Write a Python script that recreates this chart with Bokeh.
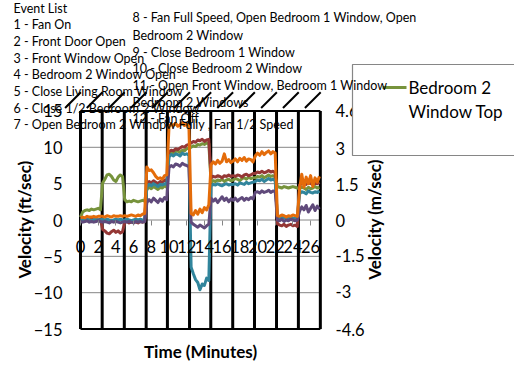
import math
from bokeh.plotting import figure
from bokeh.models import Range1d, LinearAxis, FixedTicker, Label, PrintfTickFormatter
from bokeh.embed import file_html
from bokeh.resources import INLINE

# ---------------- data ----------------
minutes = [round(0.25 * i, 2) for i in range(109)]

bedroom2_window_top = [  # green (ft/sec)
    0.4, 1.1, 1.3, 1.4, 1.3, 1.5, 1.4, 1.5, 1.6, 1.4,
    5.1, 5.6, 6.2, 6.3, 6.0, 5.5, 5.3, 5.9, 6.2, 6.0,
    2.8, 2.5, 2.6, 2.5, 2.7, 2.6, 2.5, 2.6, 2.7, 2.6,
    4.2, 4.5, 4.3, 4.6, 4.4, 4.2, 4.5, 4.4, 4.7, 4.5,
    9.0, 9.3, 9.1, 9.4, 9.5, 9.3, 9.6, 9.5, 9.8, 9.9,
    10.0, 10.2, 10.1, 10.4, 10.3, 10.5, 10.4, 10.6, 10.5,
    5.2, 5.4, 5.3, 5.5, 5.4, 5.6, 5.3, 5.5, 5.6, 5.4,
    5.5, 5.7, 5.6, 5.4, 5.7, 5.8, 5.6, 5.9, 5.7, 5.8,
    5.8, 6.0, 5.9, 6.1, 5.8, 6.0, 6.2, 6.0, 6.1, 5.9,
    4.6, 4.5, 4.4, 4.6, 4.5, 4.4, 4.5, 4.6, 4.5, 4.4,
    4.3, 4.5, 4.4, 4.2, 4.5, 4.3, 4.4, 4.6, 4.4, 4.5]

series_red = [
    0.1, 0.0, 0.1, -0.1, 0.0, 0.1, 0.0, -0.1, 0.0, 0.1,
    -1.3, -1.5, -1.8, -1.9, -1.6, -1.4, -1.7, -1.5, -1.8, -1.6,
    -0.3, -0.2, -0.4, -0.3, -0.2, -0.3, -0.4, -0.2, -0.3, -0.2,
    5.0, 5.3, 5.1, 5.4, 5.2, 5.0, 5.3, 5.2, 5.5, 5.3,
    9.4, 9.6, 9.5, 9.8, 9.7, 9.9, 10.1, 10.0, 10.3, 10.4,
    10.6, 10.8, 10.7, 11.0, 10.9, 11.1, 10.8, 11.0, 11.1,
    5.8, 6.0, 5.9, 6.1, 6.0, 5.8, 6.1, 6.0, 6.2, 6.0,
    6.1, 6.0, 6.2, 6.1, 5.9, 6.2, 6.3, 6.1, 6.2, 6.4,
    6.4, 6.6, 6.5, 6.7, 6.5, 6.6, 6.8, 6.6, 6.7, 6.5,
    -0.5, -0.7, -0.8, -0.6, -0.9, -0.7, -0.6, -0.8, -0.7, -0.9,
    4.8, 5.0, 5.1, 4.9, 5.2, 5.0, 4.9, 5.1, 5.0, 5.2]

series_teal = [
    0.0, 0.1, 0.0, 0.1, 0.0, -0.1, 0.0, 0.1, 0.0, 0.0,
    0.1, 0.0, 0.1, 0.0, -0.1, 0.0, 0.1, 0.0, 0.1, 0.0,
    0.0, 0.1, 0.0, -0.1, 0.0, 0.1, 0.0, 0.1, 0.0, 0.1,
    4.6, 4.9, 4.7, 5.0, 4.8, 4.6, 4.9, 4.8, 5.0, 4.9,
    8.7, 9.0, 8.8, 9.1, 9.0, 8.8, 9.2, 9.0, 9.1, 8.9,
    -6.5, -7.4, -8.2, -8.6, -9.6, -8.8, -9.0, -8.0, -8.3,
    4.7, 4.9, 4.8, 5.0, 4.8, 4.7, 4.9, 5.0, 4.8, 4.9,
    4.9, 5.0, 4.8, 5.1, 5.0, 4.9, 5.2, 5.0, 5.1, 5.2,
    5.3, 5.5, 5.4, 5.6, 5.3, 5.5, 5.7, 5.5, 5.6, 5.4,
    0.3, 0.2, 0.4, 0.3, 0.2, 0.3, 0.4, 0.2, 0.3, 0.2,
    3.6, 3.9, 3.8, 3.6, 4.0, 3.8, 3.7, 3.9, 3.8, 4.0]

series_purple = [
    -0.2, -0.3, -0.2, -0.1, -0.3, -0.2, -0.3, -0.2, -0.1, -0.2,
    -0.3, -0.2, -0.3, -0.4, -0.2, -0.3, -0.2, -0.3, -0.4, -0.3,
    -0.2, -0.3, -0.2, -0.3, -0.4, -0.2, -0.3, -0.2, -0.3, -0.2,
    2.4, 2.8, 2.5, 3.0, 2.7, 2.4, 2.9, 2.6, 3.1, 2.8,
    7.2, 7.5, 7.3, 7.7, 7.6, 7.4, 7.8, 7.6, 7.5, 7.3,
    -0.3, -0.6, -0.8, -1.0, -0.7, -0.9, -1.1, -0.8, -0.6,
    3.0, 2.6, 2.9, 2.4, 2.8, 3.2, 2.7, 3.0, 2.5, 2.9,
    2.7, 3.0, 2.6, 2.9, 3.1, 2.7, 3.0, 2.8, 3.1, 2.9,
    3.8, 3.9, 3.7, 4.0, 3.8, 3.9, 4.1, 3.8, 4.0, 3.9,
    0.0, -0.1, 0.1, -0.2, 0.0, -0.1, 0.1, 0.0, -0.1, 0.0,
    1.2, 1.8, 1.4, 2.0, 1.1, 1.6, 2.1, 1.3, 1.9, 1.5]

series_orange = [
    0.3, 0.4, 0.3, 0.5, 0.4, 0.4, 0.5, 0.4, 0.5, 0.5,
    0.5, 0.4, 0.6, 0.5, 0.4, 0.6, 0.5, 0.5, 0.6, 0.5,
    0.6, 0.5, 0.6, 0.7, 0.6, 0.5, 0.7, 0.6, 0.8, 0.9,
    7.3, 6.8, 6.9, 6.5, 6.0, 5.7, 5.8, 5.6, 6.1, 6.2,
    12.8, 13.2, 13.0, 13.3, 12.9, 13.1, 13.4, 13.0, 13.2, 12.9,
    0.9, 0.7, 1.3, 0.8, 1.5, 1.0, 1.7, 1.4, 2.1,
    7.6, 8.0, 7.7, 8.2, 7.8, 8.1, 9.1, 8.0, 8.3, 7.9,
    8.1, 8.4, 8.0, 8.5, 8.2, 8.6, 8.1, 8.4, 8.3, 8.0,
    8.8, 9.2, 8.9, 9.4, 9.0, 9.3, 9.5, 9.1, 9.4, 9.2,
    0.6, 0.5, 0.7, 0.6, 0.4, 0.6, 0.5, 0.7, 0.6, 0.5,
    4.2, 6.3, 4.5, 5.9, 5.0, 6.1, 4.6, 5.8, 5.2, 6.0]

event_times = [0, 2.45, 4.95, 7.42, 9.82, 12.32, 14.72, 17.2, 19.66, 22.15, 24.62, 27.1]
x_ticks = [0, 2, 4, 6, 8, 10, 12, 14, 16, 18, 20, 22, 24, 26]
left_ticks = [-15, -10, -5, 0, 5, 10, 15]
right_ticks = [-4.6, -3, -1.5, 0, 1.5, 3, 4.6]
x_max = 27.1
v_min, v_max = -15, 15

event_list_left = ["Event List", "1 - Fan On", "2 - Front Door Open", "3 - Front Window Open",
                   "4 - Bedroom 2 Window Open", "5 - Close Living Room Window",
                   "6 - Close 1/2 Bedroom 2 Window",
                   "7 - Open Bedroom 2 Windpw Fully , Fan 1/2 Speed"]
event_list_right = ["8 - Fan Full Speed, Open Bedroom  1 Window, Open", "Bedroom 2 Window",
                    "9 - Close Bedroom 1 Window", "10 - Close Bedroom 2 Window",
                    "11 - Open Front Window, Bedroom 1 Window", "Bedroom 2 Windows",
                    "12 - Fan Off"]
legend_label = ["Bedroom 2", "Window Top"]

# ---------------- layout ----------------
W, H = 514, 362
T0_X, PX_PER_MIN = 80.0, 8.85
V0_Y, PX_PER_UNIT = 219.5, 7.27
FT_TO_M = 0.3048
FONT = "Lato"


def t_at(px):
    return (px - T0_X) / PX_PER_MIN


def v_at(py):
    return (V0_Y - py) / PX_PER_UNIT


y_lo, y_hi = v_at(H), v_at(0)
p = figure(width=W, height=H, x_range=Range1d(t_at(0), t_at(W)),
           y_range=Range1d(y_lo, y_hi), x_axis_type=None, y_axis_type=None,
           toolbar_location=None, output_backend="svg", min_border=0,
           outline_line_color=None, background_fill_color="white",
           border_fill_color="white")
p.extra_y_ranges = {"ms": Range1d(y_lo * FT_TO_M, y_hi * FT_TO_M)}

# gridlines
inner = [v for v in left_ticks if v not in (v_min, v_max)]
p.segment(x0=[0] * len(inner), x1=[x_max] * len(inner), y0=inner, y1=inner,
          line_color="#868686", line_width=1)
p.segment(x0=[0, 0], x1=[x_max, x_max], y0=[v_min, v_max], y1=[v_min, v_max],
          line_color="#000000", line_width=2)

# event lines and slashes
p.segment(x0=event_times, x1=event_times, y0=[v_min] * len(event_times),
          y1=[v_max] * len(event_times), line_color="black", line_width=3)
p.segment(x0=[t - 1.74 for t in event_times], x1=[t + 0.04 for t in event_times],
          y0=[v_max + 0.4] * len(event_times), y1=[v_max + 2.57] * len(event_times),
          line_color="black", line_width=2)

# data series
for ys, col in [(bedroom2_window_top, "#77933C"), (series_red, "#953735"),
                (series_teal, "#31859C"), (series_purple, "#604A7B"),
                (series_orange, "#E46C0A")]:
    p.line(minutes, ys, line_color=col, line_width=3, line_join="round")

# axes
xaxis = LinearAxis(fixed_location=0, ticker=FixedTicker(ticks=x_ticks, minor_ticks=[]))
xaxis.axis_line_color = None
xaxis.major_tick_out = 5
xaxis.major_tick_in = 0
xaxis.major_tick_line_color = "#868686"
xaxis.major_label_standoff = 15
xaxis.major_label_text_font = FONT
xaxis.major_label_text_font_size = "16.5px"
xaxis.major_label_text_color = "black"
p.add_layout(xaxis, "below")

yaxis = LinearAxis(fixed_location=t_at(64), ticker=FixedTicker(ticks=left_ticks, minor_ticks=[]))
yaxis.axis_line_color = None
yaxis.major_tick_out = 0
yaxis.major_tick_in = 0
yaxis.major_label_standoff = 2
yaxis.major_label_text_font = FONT
yaxis.major_label_text_font_size = "16.5px"
yaxis.major_label_text_color = "black"
p.add_layout(yaxis, "left")

raxis = LinearAxis(y_range_name="ms", fixed_location=t_at(331),
                   ticker=FixedTicker(ticks=right_ticks, minor_ticks=[]),
                   formatter=PrintfTickFormatter(format="%g"))
raxis.axis_line_color = None
raxis.major_tick_out = 0
raxis.major_tick_in = 0
raxis.major_label_standoff = 4
raxis.major_label_text_font = FONT
raxis.major_label_text_font_size = "16.5px"
raxis.major_label_text_color = "black"
p.add_layout(raxis, "right")


def page_label(text, px, py, size, bold=False, align="left", angle=0.0):
    return Label(x=px, y=H - py, x_units="screen", y_units="screen",
                 text=text, text_font=FONT, text_font_size=f"{size}px",
                 text_font_style="bold" if bold else "normal", text_align=align,
                 text_baseline="middle", angle=angle, text_color="black", level="overlay")


p.add_layout(page_label("Time (Minutes)", 200, 351, 17, bold=True, align="center"))
p.add_layout(page_label("Velocity (ft/sec)", 24, 219, 17, bold=True, align="center",
                        angle=math.pi / 2))
p.add_layout(page_label("Velocity (m/sec)", 374, 219, 17, bold=True, align="center",
                        angle=math.pi / 2))

# legend box (drawn above axis labels, below texts)
p.quad(left=[t_at(352)], right=[t_at(W + 20)], top=[v_at(64)], bottom=[v_at(155)],
       fill_color="white", line_color="#868686", line_width=1.2, level="annotation")
p.segment(x0=[t_at(382)], x1=[t_at(406)], y0=[v_at(87)], y1=[v_at(87)],
          line_color="#77933C", line_width=3, level="overlay")
for txt, py in zip(legend_label, [87, 111]):
    p.add_layout(page_label(txt, 408, py, 17))

# event list
for txt, py in zip(event_list_left, [8, 24, 41, 58, 74, 91, 108, 124]):
    p.add_layout(page_label(txt, 13, py, 12.5))
for txt, py in zip(event_list_right, [17, 35, 52, 68, 85, 102, 118]):
    p.add_layout(page_label(txt, 132, py, 12.5))

open("out.html", "w").write(file_html(p, INLINE))
